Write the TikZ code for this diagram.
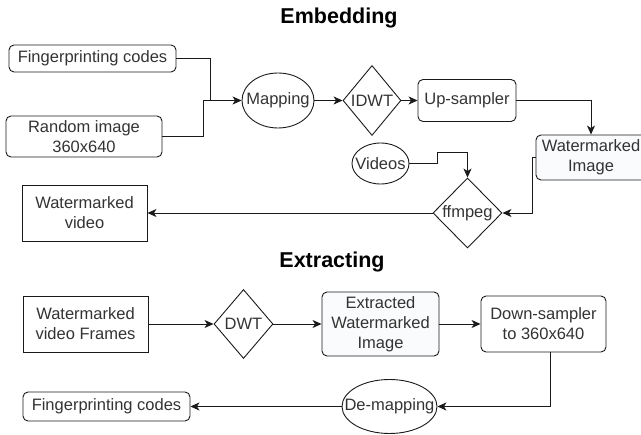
\documentclass[tikz,border=0pt]{standalone}
\usepackage{fontspec}
\setmainfont{Liberation Sans}
\usetikzlibrary{shapes.geometric,arrows.meta,calc}
\definecolor{txt}{HTML}{333333}
\definecolor{ln}{HTML}{1A1A1A}
\definecolor{lfill}{HTML}{FAFBFC}
\tikzset{
  tfont/.style={font=\fontsize{16.5}{20}\selectfont},
  base/.style={draw=ln, line width=0.9pt, inner sep=0pt, text=txt,
    tfont, align=center},
  rbox/.style={base, rectangle, rounded corners=5pt},
  sbox/.style={base, rectangle},
  ell/.style={base, ellipse},
  dia/.style={base, diamond},
  conn/.style={draw=ln, line width=0.9pt},
  arr/.style={conn, -{Stealth[length=9pt,width=8pt,inset=2.5pt]}},
  ttl/.style={font=\fontsize{21.5}{24}\selectfont\bfseries, text=black}
}
\begin{document}
\begin{tikzpicture}[x=1pt,y=-1pt]
\useasboundingbox (0,0) rectangle (641,435);
\clip (0,0) rectangle (641,435);
% titles
\node[ttl] (t1) at (339,18) {Embedding};
\node[ttl] (t2) at (332,262) {Extracting};
% embedding
\node[rbox, minimum width=167, minimum height=27] (fp1) at (92.5,58.5) {Fingerprinting codes};
\node[rbox, minimum width=156, minimum height=41] (rnd) at (84,136.5) {Random image\\360x640};
\node[ell, minimum width=72, minimum height=55, label={[text=txt,tfont]center:Mapping}] (map) at (278,100.5) {};
\node[dia, minimum width=58, minimum height=70, label={[text=txt,tfont]center:IDWT}] (idwt) at (372,100.5) {};
\node[rbox, minimum width=98, minimum height=42] (up) at (467,100.5) {Up-sampler};
\node[rbox, fill=lfill, minimum width=110, minimum height=45] (wimg) at (591,157.5) {Watermarked\\Image};
\node[ell, minimum width=57, minimum height=41, label={[text=txt,tfont]center:Videos}] (vid) at (380.5,163.5) {};
\node[dia, minimum width=69, minimum height=70, label={[text=txt,tfont]center:ffmpeg}] (ff) at (467.5,213) {};
\node[sbox, minimum width=125, minimum height=56] (wvid) at (84.5,213) {Watermarked\\video};
\coordinate (j1) at (210,100.5);
\coordinate (j2) at (203,100.5);
\coordinate (c1) at (437,152);
\coordinate (c2) at (532,213);
\draw[arr] (fp1.east) -| (j1) -- (map.west);
\draw[conn] (rnd.east) -| (j2) -- (j1);
\draw[arr] (map.east) -- (idwt.west);
\draw[arr] (idwt.east) -- (up.west);
\draw[arr] (up.east) -| (wimg.north);
\draw[arr] (vid.east) -| (c1) -| (ff.north);
\draw[arr] (wimg.west) -| (c2) -- (ff.east);
\draw[arr] (ff.west) -- (wvid.east);
% extracting
\node[sbox, minimum width=125, minimum height=56] (wvf) at (85.5,324) {Watermarked\\video Frames};
\node[dia, minimum width=59, minimum height=69, label={[text=txt,tfont]center:DWT}] (dwt) at (243.5,324) {};
\node[rbox, fill=lfill, minimum width=117, minimum height=64] (ext) at (380.5,324) {Extracted\\Watermarked\\Image};
\node[rbox, minimum width=125, minimum height=56] (down) at (543.5,324) {Down-sampler\\to 360x640};
\node[ell, minimum width=95, minimum height=54, label={[text=txt,tfont]center:De-mapping}] (dem) at (389.5,406.5) {};
\node[rbox, minimum width=167, minimum height=29] (fp2) at (106.5,406.5) {Fingerprinting codes};
\draw[arr] (wvf.east) -- (dwt.west);
\draw[arr] (dwt.east) -- (ext.west);
\draw[arr] (ext.east) -- (down.west);
\draw[arr] ([xshift=6.5pt]down.south) |- (dem.east);
\draw[arr] (dem.west) -- (fp2.east);
\end{tikzpicture}
\end{document}
